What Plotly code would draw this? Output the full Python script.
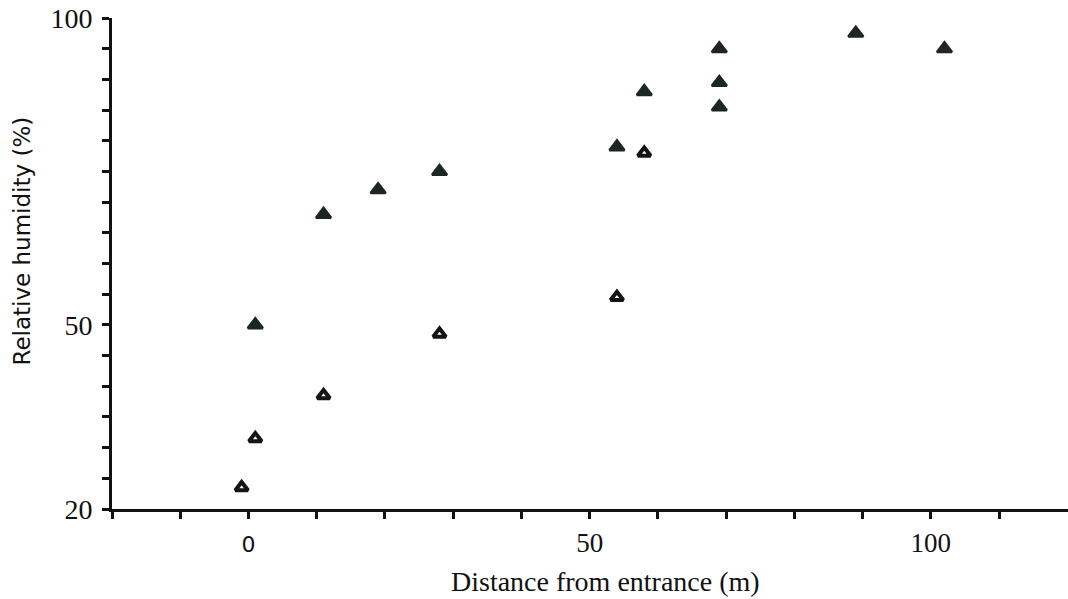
import plotly.graph_objects as go

# Relative humidity measured along the passage, by distance from the entrance
filled_distance = [1, 11, 19, 28, 54, 58, 69, 69, 69, 89, 102]
filled_humidity = [50, 68, 72, 75, 79, 88, 95, 89.5, 85.5, 97.5, 95]

open_distance = [-1, 1, 11, 28, 54, 58]
open_humidity = [23.5, 31.5, 38.5, 48.5, 54.5, 78]

x_ticks = list(range(-20, 120, 10))
x_labels = {0: "<span style='font-family:DejaVu Sans;font-size:22px'>0</span>", 50: "50", 100: "100"}
y_ticks = list(range(20, 101, 5))
y_labels = {20: "20", 50: "50", 100: "100"}

ink = "#1c2724"
serif = "Liberation Serif"

fig = go.Figure()
fig.add_trace(go.Scatter(
    x=filled_distance, y=filled_humidity, mode="markers",
    marker=dict(symbol="triangle-up", size=13, color=ink,
                line=dict(color=ink, width=2.5)),
    showlegend=False, cliponaxis=False,
))
fig.add_trace(go.Scatter(
    x=open_distance, y=open_humidity, mode="markers",
    marker=dict(symbol="triangle-up", size=11, color="white",
                line=dict(color="#141414", width=4)),
    showlegend=False, cliponaxis=False,
))

fig.update_layout(
    width=1068, height=599,
    margin=dict(l=112, r=0, t=18, b=90),
    paper_bgcolor="white", plot_bgcolor="white",
    font=dict(family=serif, color="#111111"),
    xaxis=dict(
        range=[-20, 120.1], showgrid=False, zeroline=False,
        showline=True, linecolor="#111111", linewidth=3,
        ticks="outside", ticklen=7, tickwidth=2.5, tickcolor="#111111",
        tickvals=x_ticks, ticktext=[x_labels.get(v, "") for v in x_ticks],
        tickfont=dict(family=serif, size=27, color="#111111"),
        ticklabelstandoff=1,
    ),
    yaxis=dict(
        range=[20, 100], showgrid=False, zeroline=False,
        showline=True, linecolor="#111111", linewidth=3,
        ticks="outside", ticklen=7, tickwidth=2.5, tickcolor="#111111",
        tickvals=y_ticks, ticktext=[y_labels.get(v, "") for v in y_ticks],
        tickfont=dict(family=serif, size=28, color="#111111"),
        ticklabelstandoff=4,
    ),
    annotations=[
        dict(text="Relative humidity (%)", textangle=-90,
             xref="paper", yref="paper", x=-0.094, y=0.545,
             xanchor="center", yanchor="middle", showarrow=False,
             font=dict(family="DejaVu Sans", size=23, color="#111111")),
        dict(text="Distance from entrance (m)",
             xref="paper", yref="paper", x=0.516, y=-0.148,
             xanchor="center", yanchor="middle", showarrow=False,
             font=dict(family=serif, size=28, color="#111111")),
    ],
)

fig.write_html("out.html")
